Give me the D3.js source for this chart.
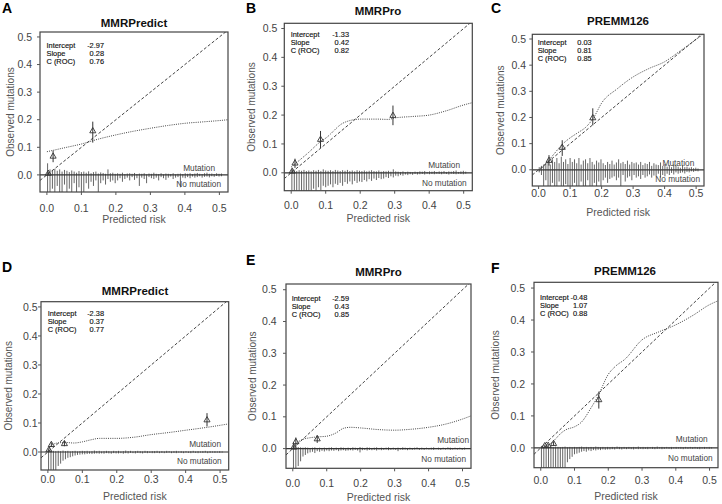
<!DOCTYPE html>
<html><head><meta charset="utf-8">
<script src="https://cdn.jsdelivr.net/npm/d3@7"></script>
<style>
body{margin:0;background:#fff}
svg{display:block}
text{font-family:"Liberation Sans",Arial,Helvetica,sans-serif}
</style>
</head><body>
<svg id="chart" width="722" height="504"></svg>
<script>
// ---------------- DATA ----------------
const panelLetters = ["A","B","C","D","E","F"];
const panelTitles = ["MMRPredict","MMRPro","PREMM126","MMRPredict","MMRPro","PREMM126"];
const statLabels = ["Intercept","Slope","C (ROC)"];
const intercepts = ["-2.97","-1.33","0.03","-2.38","-2.59","-0.48"];
const slopes = ["0.28","0.42","0.81","0.37","0.43","1.07"];
const cROC = ["0.76","0.82","0.85","0.77","0.85","0.88"];
const xTicks = [0, 0.1, 0.2, 0.3, 0.4, 0.5];
const yTicks = [0, 0.1, 0.2, 0.3, 0.4, 0.5];
const xTickLabels = ["0.0","0.1","0.2","0.3","0.4","0.5"];
const yTickLabels = ["0.0","0.1","0.2","0.3","0.4","0.5"];
const xTitle = "Predicted risk";
const yTitle = "Observed mutations";
const mutLabel = "Mutation";
const noMutLabel = "No mutation";

// nonparametric (lowess) calibration curves: [predicted, observed]
const curveA = [[0,0.084],[0.05,0.098],[0.1,0.112],[0.15,0.13],[0.2,0.145],[0.25,0.158],[0.3,0.169],[0.35,0.179],[0.4,0.187],[0.45,0.192],[0.5,0.197],[0.525,0.2]];
const curveB = [[0,0.02],[0.05,0.07],[0.085,0.108],[0.1,0.12],[0.15,0.172],[0.17,0.181],[0.2,0.186],[0.25,0.186],[0.28,0.185],[0.3,0.19],[0.35,0.195],[0.4,0.2],[0.45,0.215],[0.5,0.235],[0.525,0.243]];
const curveC = [[0.002,-0.005],[0.02,0.018],[0.035,0.04],[0.05,0.062],[0.075,0.097],[0.1,0.122],[0.125,0.142],[0.15,0.163],[0.175,0.2],[0.2,0.255],[0.25,0.31],[0.3,0.355],[0.35,0.387],[0.4,0.413],[0.45,0.455],[0.5,0.498],[0.52,0.516]];
const curveD = [[0,0.005],[0.01,0.022],[0.02,0.029],[0.035,0.032],[0.05,0.033],[0.075,0.031],[0.1,0.035],[0.125,0.042],[0.15,0.047],[0.2,0.047],[0.25,0.051],[0.3,0.06],[0.35,0.067],[0.4,0.075],[0.45,0.083],[0.5,0.092],[0.525,0.097]];
const curveE = [[0,0.004],[0.01,0.016],[0.025,0.027],[0.05,0.034],[0.075,0.037],[0.1,0.039],[0.125,0.048],[0.15,0.064],[0.17,0.067],[0.2,0.065],[0.25,0.06],[0.3,0.058],[0.35,0.061],[0.4,0.067],[0.45,0.077],[0.5,0.093],[0.525,0.103]];
const curveF = [[0.003,0],[0.02,0.007],[0.04,0.024],[0.06,0.046],[0.075,0.057],[0.1,0.066],[0.12,0.08],[0.15,0.127],[0.17,0.163],[0.2,0.23],[0.22,0.254],[0.25,0.278],[0.3,0.338],[0.35,0.363],[0.4,0.385],[0.45,0.414],[0.5,0.448],[0.525,0.46]];

// grouped observations: [predicted, observed, lower CI, upper CI]
const groupsA = [[0.004,0.005,0.0,0.012],[0.018,0.067,0.046,0.088],[0.133,0.159,0.117,0.193]];
const groupsB = [[0.003,0.005,0.0,0.012],[0.011,0.033,0.017,0.049],[0.085,0.115,0.086,0.145],[0.295,0.198,0.165,0.233]];
const groupsC = [[0.033,0.035,0.016,0.056],[0.075,0.085,0.053,0.113],[0.172,0.198,0.17,0.235]];
const groupsD = [[0.003,0.007,0.002,0.013],[0.01,0.025,0.018,0.033],[0.048,0.028,0.02,0.038],[0.462,0.11,0.088,0.134]];
const groupsE = [[0.003,0.004,0.0,0.008],[0.009,0.021,0.008,0.035],[0.072,0.03,0.018,0.042]];
const groupsF = [[0.012,0.006,0.002,0.01],[0.022,0.007,0.003,0.012],[0.038,0.013,0.007,0.02],[0.172,0.15,0.123,0.176]];

// spike histograms (heights in observed-mutation units), one value per risk bin
const spikeBinStart = 0.002, spikeBinWidth = 0.007;
const mutA = [0.042,0.02,0.018,0.022,0.015,0.02,0.012,0.018,0.015,0.01,0.016,0.012,0.008,0.014,0.01,
  0.012,0.008,0.013,0.006,0.01,0.012,0.005,0.009,0.007,0.004,0.02,0.006,0.008,0.004,
  0.006,0.004,0.008,0.003,0.005,0.006,0.004,0.007,0.003,0.005,0.004,0.006,0.002,0.005,0.004,
  0.008,0.004,0.003,0.006,0.002,0.005,0.004,0.003,0.006,0.002,0.004,0.005,0.003,0.006,
  0.004,0.006,0.003,0.005,0.007,0.004,0.003,0.006,0.008,0.004,0.005,0.003,0.006,0.004,0.005];
const noMutA = [0.07,0.07,0.05,0.07,0.04,0.07,0.07,0.035,0.07,0.05,0.07,0.03,0.07,0.045,0.07,
  0.07,0.03,0.05,0.025,0.04,0.02,0.07,0.03,0.02,0.035,0.015,0.025,0.02,0.03,
  0.02,0.012,0.025,0.015,0.01,0.02,0.008,0.018,0.012,0.04,0.01,0.015,0.03,0.008,0.012,
  0.015,0.01,0.02,0.008,0.012,0.018,0.01,0.006,0.015,0.01,0.008,0.045,0.01,0.012,
  0.008,0.012,0.006,0.01,0.008,0.005,0.01,0.007,0.006,0.009,0.005,0.007,0.004,0.006,0.005];
const mutB = [0.012,0.008,0.006,0.009,0.007,0.01,0.006,0.008,0.005,0.009,0.007,0.01,0.006,0.012,0.008,
  0.007,0.009,0.006,0.01,0.008,0.006,0.009,0.007,0.01,0.006,0.008,0.005,0.009,0.007,
  0.006,0.008,0.005,0.007,0.009,0.006,0.005,0.008,0.004,0.006,0.005,0.007,0.004,0.012,0.005,
  0.004,0.003,0.005,0.002,0.004,0.003,0.002,0.004,0.003,0.005,0.004,0.006,0.003,0.005,
  0.004,0.006,0.003,0.005,0.004,0.006,0.003,0.005,0.004,0.006,0.008,0.003,0.005,0.007,0.004];
const noMutB = [0.07,0.07,0.07,0.07,0.07,0.07,0.07,0.07,0.065,0.055,0.07,0.05,0.06,0.045,0.05,
  0.045,0.04,0.05,0.038,0.042,0.035,0.045,0.032,0.038,0.03,0.04,0.028,0.035,0.03,
  0.032,0.025,0.03,0.022,0.028,0.02,0.025,0.018,0.022,0.02,0.015,0.018,0.012,0.016,0.01,
  0.012,0.008,0.01,0.006,0.008,0.005,0.007,0.004,0.006,0.005,0.004,0.006,0.003,0.005,
  0.004,0.005,0.003,0.004,0.005,0.003,0.004,0.006,0.003,0.004,0.005,0.003,0.004,0.005,0.003];
const mutC = [0.01,0.015,0.02,0.025,0.035,0.02,0.04,0.03,0.045,0.025,0.05,0.03,0.04,0.022,0.045,
  0.03,0.04,0.025,0.045,0.02,0.035,0.04,0.025,0.045,0.03,0.02,0.035,0.028,0.04,
  0.025,0.018,0.03,0.022,0.035,0.02,0.028,0.04,0.025,0.03,0.022,0.035,0.02,0.03,0.025,
  0.028,0.02,0.03,0.018,0.025,0.022,0.03,0.015,0.025,0.02,0.018,0.028,0.015,0.022,
  0.012,0.018,0.01,0.02,0.015,0.012,0.008,0.015,0.01,0.012,0.008,0.01,0.006,0.008,0.005];
const noMutC = [0.01,0.02,0.065,0.04,0.065,0.065,0.05,0.065,0.065,0.045,0.065,0.065,0.055,0.065,0.065,
  0.065,0.05,0.065,0.065,0.045,0.065,0.065,0.04,0.065,0.065,0.05,0.065,0.045,0.065,
  0.04,0.03,0.05,0.035,0.03,0.025,0.04,0.03,0.065,0.02,0.045,0.03,0.025,0.04,0.02,
  0.03,0.025,0.035,0.02,0.03,0.025,0.018,0.03,0.022,0.025,0.015,0.03,0.02,0.025,
  0.015,0.02,0.012,0.018,0.01,0.015,0.012,0.01,0.014,0.008,0.01,0.006,0.008,0.005,0.006];
const mutD = [0.008,0.005,0.004,0.003,0.004,0.003,0.005,0.003,0.004,0.002,0.003,0.004,0.002,0.003,0.004,
  0.003,0.004,0.002,0.003,0.005,0.003,0.004,0.002,0.003,0.004,0.003,0.002,0.004,0.003,
  0.004,0.002,0.003,0.005,0.003,0.004,0.002,0.003,0.004,0.003,0.002,0.004,0.003,0.002,0.003,
  0.003,0.004,0.002,0.003,0.002,0.004,0.003,0.002,0.003,0.004,0.002,0.003,0.002,0.003,
  0.002,0.003,0.004,0.002,0.003,0.002,0.003,0.004,0.002,0.003,0.002,0.003,0.002,0.003,0.002];
const noMutD = [0.07,0.07,0.07,0.07,0.048,0.04,0.03,0.025,0.02,0.018,0.015,0.012,0.01,0.009,0.008,
  0.008,0.007,0.006,0.007,0.006,0.005,0.006,0.005,0.006,0.004,0.005,0.006,0.004,0.005,
  0.005,0.004,0.006,0.004,0.005,0.003,0.004,0.005,0.003,0.004,0.005,0.003,0.004,0.003,0.004,
  0.004,0.003,0.004,0.003,0.004,0.003,0.002,0.004,0.003,0.004,0.002,0.003,0.004,0.002,
  0.003,0.004,0.002,0.003,0.004,0.002,0.003,0.002,0.004,0.003,0.002,0.003,0.002,0.003,0.002];
const mutE = [0.02,0.008,0.005,0.004,0.003,0.004,0.003,0.002,0.003,0.004,0.002,0.003,0.002,0.003,0.002,
  0.003,0.004,0.002,0.003,0.002,0.004,0.003,0.002,0.003,0.002,0.004,0.003,0.002,0.005,
  0.003,0.002,0.004,0.003,0.002,0.003,0.004,0.002,0.003,0.002,0.003,0.004,0.002,0.003,0.002,
  0.003,0.002,0.004,0.003,0.002,0.003,0.002,0.003,0.004,0.002,0.003,0.002,0.003,0.002,
  0.003,0.004,0.002,0.003,0.002,0.003,0.002,0.004,0.003,0.002,0.003,0.002,0.003,0.002,0.003];
const noMutE = [0.07,0.07,0.055,0.04,0.025,0.02,0.015,0.012,0.01,0.014,0.008,0.01,0.007,0.009,0.006,
  0.008,0.006,0.007,0.005,0.008,0.006,0.005,0.007,0.006,0.005,0.006,0.004,0.006,0.012,
  0.005,0.004,0.006,0.004,0.005,0.004,0.006,0.003,0.005,0.004,0.003,0.005,0.004,0.003,0.004,
  0.008,0.003,0.004,0.003,0.005,0.003,0.004,0.003,0.002,0.004,0.003,0.004,0.002,0.003,
  0.003,0.004,0.002,0.003,0.004,0.002,0.003,0.002,0.004,0.003,0.002,0.003,0.002,0.004,0.003];
const mutF = [0.006,0.004,0.005,0.003,0.004,0.003,0.004,0.003,0.002,0.003,0.004,0.002,0.003,0.002,0.003,
  0.002,0.003,0.004,0.002,0.003,0.002,0.003,0.002,0.004,0.003,0.002,0.003,0.002,0.003,
  0.002,0.003,0.002,0.004,0.003,0.002,0.003,0.002,0.003,0.002,0.003,0.002,0.004,0.002,0.003,
  0.002,0.003,0.002,0.003,0.002,0.004,0.002,0.003,0.002,0.003,0.002,0.003,0.002,0.003,
  0.002,0.003,0.002,0.003,0.002,0.003,0.002,0.003,0.002,0.003,0.002,0.003,0.002,0.003,0.002];
const noMutF = [0.07,0.07,0.07,0.07,0.07,0.07,0.07,0.07,0.07,0.07,0.065,0.045,0.035,0.028,0.02,
  0.018,0.015,0.012,0.01,0.012,0.008,0.01,0.007,0.008,0.006,0.007,0.005,0.006,0.005,
  0.005,0.004,0.005,0.003,0.004,0.005,0.003,0.004,0.003,0.004,0.005,0.003,0.004,0.003,0.004,
  0.003,0.004,0.002,0.003,0.004,0.003,0.002,0.004,0.003,0.002,0.003,0.004,0.002,0.003,
  0.002,0.003,0.004,0.002,0.003,0.002,0.003,0.002,0.003,0.004,0.002,0.003,0.002,0.003,0.002];

const curves = [curveA, curveB, curveC, curveD, curveE, curveF];
const groups = [groupsA, groupsB, groupsC, groupsD, groupsE, groupsF];
const mutSpikes = [mutA, mutB, mutC, mutD, mutE, mutF];
const noMutSpikes = [noMutA, noMutB, noMutC, noMutD, noMutE, noMutF];

// ---------------- LAYOUT (positions) ----------------
const layout = [
  {box:{l:40,r:228,t:32,b:192}, title:{x:134,y:27}, letter:{x:2,y:13}, xTickY:211.5, xLabY:222.5, yTickX:32, yLabX:10,
   stats:{x:46.5,y:47.5,vx:104}, mut:{x:215,y:171}, nomut:{x:221,y:187}},
  {box:{l:284.3,r:472.3,t:23.3,b:190.7}, title:{x:378,y:15}, letter:{x:246,y:13}, xTickY:208.5, xLabY:222, yTickX:277.3, yLabX:251.7,
   stats:{x:290.7,y:36.5,vx:349}, mut:{x:460,y:167.5}, nomut:{x:466.7,y:185.5}},
  {box:{l:532.3,r:704,t:34.3,b:186}, title:{x:618,y:24.5}, letter:{x:491,y:13}, xTickY:196.5, xLabY:215.5, yTickX:526, yLabX:500.7,
   stats:{x:537.7,y:44.8,vx:591.7}, mut:{x:694.3,y:166}, nomut:{x:700,y:182}},
  {box:{l:41,r:228.7,t:301.7,b:470}, title:{x:135,y:295}, letter:{x:2,y:272}, xTickY:483, xLabY:499.5, yTickX:37.5, yLabX:8.3,
   stats:{x:47.7,y:316.2,vx:104}, mut:{x:221,y:447.3}, nomut:{x:221.7,y:464.3}},
  {box:{l:286,r:471,t:284,b:468.3}, title:{x:378.5,y:276}, letter:{x:246,y:265}, xTickY:487, xLabY:501, yTickX:276.7, yLabX:252.3,
   stats:{x:291.7,y:300.8,vx:349}, mut:{x:469,y:443}, nomut:{x:466,y:462.3}},
  {box:{l:534,r:718,t:282.3,b:467.7}, title:{x:625,y:275}, letter:{x:491,y:273}, xTickY:483.5, xLabY:499.5, yTickX:525, yLabX:495,
   stats:{x:540,y:300.2,vx:587.3}, mut:{x:707.7,y:442}, nomut:{x:712.7,y:460.7}}
];

const xDomain = [-0.02, 0.525];
const yDomain = [-0.062, 0.518];

// ---------------- DRAW ----------------
const svg = d3.select("#chart");
const ink = "#444";
const defs = svg.append("defs");

layout.forEach((L, p) => {
  const B = L.box;
  const x = d3.scaleLinear().domain(xDomain).range([B.l, B.r]);
  const y = d3.scaleLinear().domain(yDomain).range([B.b, B.t]);
  const g = svg.append("g");

  const cid = "clip" + p;
  defs.append("clipPath").attr("id", cid).append("rect")
    .attr("x", B.l).attr("y", B.t).attr("width", B.r - B.l).attr("height", B.b - B.t);
  const inner = g.append("g").attr("clip-path", `url(#${cid})`);

  // spikes
  const bins = mutSpikes[p].map((_, i) => spikeBinStart + i * spikeBinWidth);
  inner.append("g").selectAll("line").data(mutSpikes[p]).join("line")
    .attr("x1", (d, i) => x(bins[i])).attr("x2", (d, i) => x(bins[i]))
    .attr("y1", y(0)).attr("y2", d => y(d))
    .attr("stroke", "#666").attr("stroke-width", 1);
  inner.append("g").selectAll("line").data(noMutSpikes[p]).join("line")
    .attr("x1", (d, i) => x(bins[i])).attr("x2", (d, i) => x(bins[i]))
    .attr("y1", y(0)).attr("y2", d => y(-d))
    .attr("stroke", "#666").attr("stroke-width", 1);

  // zero line
  inner.append("line").attr("x1", B.l).attr("x2", B.r).attr("y1", y(0)).attr("y2", y(0))
    .attr("stroke", "#333").attr("stroke-width", 1.2);

  // ideal diagonal
  inner.append("line")
    .attr("x1", x(xDomain[0])).attr("y1", y(xDomain[0]))
    .attr("x2", x(xDomain[1])).attr("y2", y(xDomain[1]))
    .attr("stroke", "#444").attr("stroke-width", 1).attr("stroke-dasharray", "3,2");

  // nonparametric curve
  inner.append("path").datum(curves[p])
    .attr("d", d3.line().x(d => x(d[0])).y(d => y(d[1])).curve(d3.curveMonotoneX))
    .attr("fill", "none").attr("stroke", "#444").attr("stroke-width", 1)
    .attr("stroke-dasharray", "1,1.2");

  // grouped observations
  const gg = inner.append("g");
  gg.selectAll("line").data(groups[p]).join("line")
    .attr("x1", d => x(d[0])).attr("x2", d => x(d[0]))
    .attr("y1", d => y(d[2])).attr("y2", d => y(d[3]))
    .attr("stroke", "#333").attr("stroke-width", 1);
  gg.selectAll("path").data(groups[p]).join("path")
    .attr("transform", d => `translate(${x(d[0])},${y(d[1])})`)
    .attr("d", d3.symbol(d3.symbolTriangle, 16))
    .attr("fill", "none").attr("stroke", "#333").attr("stroke-width", 0.9);

  // box
  g.append("rect").attr("x", B.l).attr("y", B.t).attr("width", B.r - B.l).attr("height", B.b - B.t)
    .attr("fill", "none").attr("stroke", "#444").attr("stroke-width", 1.2);

  // ticks
  const tk = g.append("g");
  tk.selectAll("line.xt").data(xTicks).join("line").attr("class", "xt")
    .attr("x1", d => x(d)).attr("x2", d => x(d)).attr("y1", B.b).attr("y2", B.b + 3)
    .attr("stroke", "#555");
  tk.selectAll("line.yt").data(yTicks).join("line").attr("class", "yt")
    .attr("y1", d => y(d)).attr("y2", d => y(d)).attr("x1", B.l).attr("x2", B.l - 3)
    .attr("stroke", "#555");
  tk.selectAll("text.xtl").data(xTicks).join("text").attr("class", "xtl")
    .attr("x", d => x(d)).attr("y", L.xTickY).attr("text-anchor", "middle")
    .attr("font-size", 10.5).attr("fill", ink).text((d, i) => xTickLabels[i]);
  tk.selectAll("text.ytl").data(yTicks).join("text").attr("class", "ytl")
    .attr("x", L.yTickX).attr("y", d => y(d)).attr("dy", "0.35em").attr("text-anchor", "end")
    .attr("font-size", 10.5).attr("fill", ink).text((d, i) => yTickLabels[i]);

  // axis titles
  g.append("text").attr("x", (B.l + B.r) / 2).attr("y", L.xLabY).attr("text-anchor", "middle")
    .attr("font-size", 10.5).attr("fill", "#555").text(xTitle);
  g.append("text").attr("transform", `translate(${L.yLabX},${(B.t + B.b) / 2}) rotate(-90)`)
    .attr("text-anchor", "middle").attr("dy", "0.35em")
    .attr("font-size", 10).attr("fill", "#555").text(yTitle);

  // title and letter
  g.append("text").attr("x", L.title.x).attr("y", L.title.y).attr("text-anchor", "middle")
    .attr("font-size", 11.5).attr("font-weight", "bold").attr("fill", "#111").text(panelTitles[p]);
  g.append("text").attr("x", L.letter.x).attr("y", L.letter.y)
    .attr("font-size", 14).attr("font-weight", "bold").attr("fill", "#000").text(panelLetters[p]);

  // stats
  const vals = [intercepts[p], slopes[p], cROC[p]];
  statLabels.forEach((s, i) => {
    g.append("text").attr("x", L.stats.x).attr("y", L.stats.y + i * 8)
      .attr("font-size", 7.4).attr("fill", "#111").attr("stroke", "#111").attr("stroke-width", 0.15).text(s);
    g.append("text").attr("x", L.stats.vx).attr("y", L.stats.y + i * 8).attr("text-anchor", "end")
      .attr("font-size", 7.4).attr("fill", "#111").attr("stroke", "#111").attr("stroke-width", 0.15).text(vals[i]);
  });

  // spike labels
  g.append("text").attr("x", L.mut.x).attr("y", L.mut.y).attr("text-anchor", "end")
    .attr("font-size", 8.3).attr("fill", ink).text(mutLabel);
  g.append("text").attr("x", L.nomut.x).attr("y", L.nomut.y).attr("text-anchor", "end")
    .attr("font-size", 8.3).attr("fill", ink).text(noMutLabel);
});
</script>
</body></html>
